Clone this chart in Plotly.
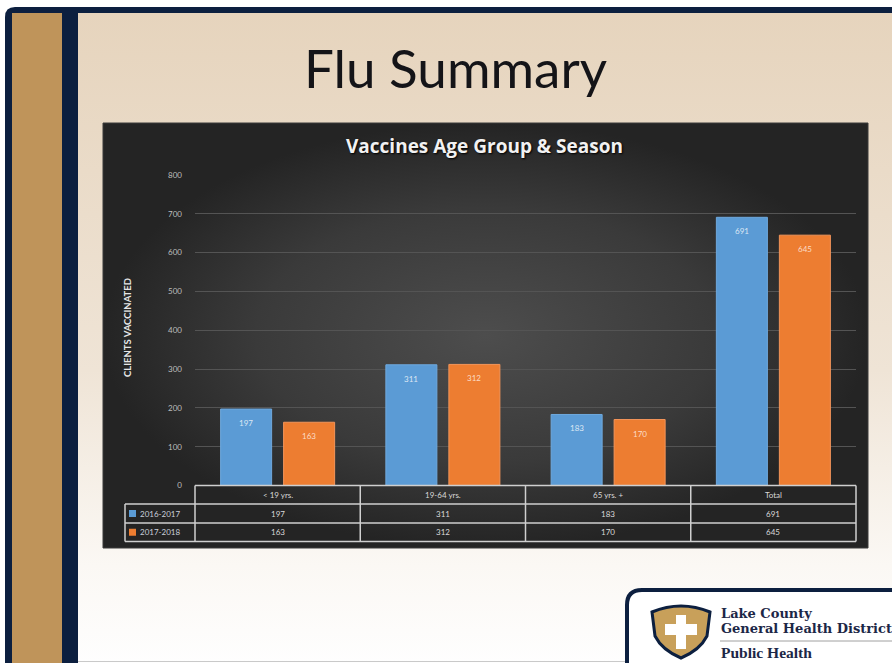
import plotly.graph_objects as go

# Canvas (the slide screenshot) size in pixels.
W, H = 892, 663

# ---- data -------------------------------------------------------------
categories = ["< 19 yrs.", "19-64 yrs.", "65 yrs. +", "Total"]
seasons = ["2016-2017", "2017-2018"]
vaccinated_2016_2017 = [197, 311, 183, 691]
vaccinated_2017_2018 = [163, 312, 170, 645]
y_ticks = [0, 100, 200, 300, 400, 500, 600, 700, 800]

# ---- styling ----------------------------------------------------------
COLOR_BLUE = "#5b9bd5"
COLOR_ORANGE = "#ed7d31"
NAVY = "#0c1f3f"
GOLD = "#bf945a"
TEXT_LIGHT = "#d9d9d9"
FONT_BODY = "Lato, Carlito, sans-serif"

# plot area of the chart, in screen pixels
PLOT_L, PLOT_R, PLOT_T, PLOT_B = 195, 856, 175, 485.5
ROW_Y = [485.5, 504, 523, 541.5]        # table row borders
LABEL_L = 125                            # left edge of the row-label column


def px(x):
    return x / W


def py(y):
    return 1 - y / H


def path(points):
    """SVG path in paper coords from (cmd, x, y, ...) pixel tuples."""
    out = []
    for p in points:
        cmd, coords = p[0], p[1:]
        pts = [f"{px(coords[i])},{py(coords[i + 1])}" for i in range(0, len(coords), 2)]
        out.append(cmd + " " + " ".join(pts))
    return " ".join(out) + " Z"


def rect_xy(x0, y0, x1, y1):
    return [x0, x1, x1, x0, x0], [y0, y0, y1, y1, y0]


def note(text, x, y, size, color, family=FONT_BODY, xref="paper", yref="paper", **kw):
    d = dict(x=x, y=y, xref=xref, yref=yref, text=text, showarrow=False,
             xanchor="center", yanchor="middle",
             font=dict(size=size, color=color, family=family))
    d.update(kw)
    return d


fig = go.Figure()

# Slide background (beige gradient) and the dark chart panel, drawn on a
# pixel-space helper axis pair underneath the chart.
bx, by = rect_xy(78, 13, 900, 670)
fig.add_trace(go.Scatter(
    x=bx, y=by, mode="lines", line=dict(width=0), fill="toself",
    fillgradient=dict(type="vertical", start=13, stop=663,
                      colorscale=[[0, "#e6d4bd"], [0.55, "#efe4d6"],
                                  [0.85, "#fbf8f4"], [1, "#fefefe"]]),
    hoverinfo="skip", showlegend=False, xaxis="x", yaxis="y"))
cx_, cy_ = rect_xy(103, 123, 868, 548)
fig.add_trace(go.Scatter(
    x=cx_, y=cy_, mode="lines", line=dict(width=1, color="#3a3a3a"), fill="toself",
    fillgradient=dict(type="radial",
                      colorscale=[[0, "#4d4d4d"], [0.6, "#3a3a3a"], [1, "#242424"]]),
    hoverinfo="skip", showlegend=False, xaxis="x", yaxis="y"))

# Bars.
for name, vals, color, line_c in [
    (seasons[0], vaccinated_2016_2017, COLOR_BLUE, "#6fa9de"),
    (seasons[1], vaccinated_2017_2018, COLOR_ORANGE, "#f3955a"),
]:
    fig.add_trace(go.Bar(
        x=categories, y=vals, name=name, marker=dict(color=color, line=dict(color=line_c, width=1)),
        hoverinfo="x+y+name", xaxis="x2", yaxis="y2", showlegend=False))

shapes = []
annotations = []

# Slide frame: navy rounded border, gold strip.
shapes.append(dict(type="path", xref="paper", yref="paper", layer="below",
                   path=path([("M", 5, 700), ("L", 5, 17), ("Q", 5, 7, 15, 7),
                              ("L", 900, 7), ("L", 900, 700)]),
                   fillcolor=NAVY, line=dict(width=0)))
shapes.append(dict(type="rect", xref="paper", yref="paper", layer="below",
                   x0=px(12), x1=px(62), y0=py(670), y1=py(13),
                   fillcolor=GOLD, line=dict(width=0)))
shapes.append(dict(type="line", xref="paper", yref="paper",
                   x0=px(78), x1=px(630), y0=py(661.5), y1=py(661.5),
                   line=dict(color="#c9c9c9", width=1)))

# Data table under the plot.
tbl_line = dict(color="#cfcfcf", width=1.5)
n = len(categories)
col_x = [PLOT_L + i * (PLOT_R - PLOT_L) / n for i in range(n + 1)]
shapes.append(dict(type="line", xref="paper", yref="paper", x0=px(PLOT_L), x1=px(PLOT_R),
                   y0=py(ROW_Y[0]), y1=py(ROW_Y[0]), line=tbl_line))
for yy in ROW_Y[1:]:
    shapes.append(dict(type="line", xref="paper", yref="paper", x0=px(LABEL_L), x1=px(PLOT_R),
                       y0=py(yy), y1=py(yy), line=tbl_line))
shapes.append(dict(type="line", xref="paper", yref="paper", x0=px(LABEL_L), x1=px(LABEL_L),
                   y0=py(ROW_Y[1]), y1=py(ROW_Y[-1]), line=tbl_line))
for xx in col_x:
    shapes.append(dict(type="line", xref="paper", yref="paper", x0=px(xx), x1=px(xx),
                       y0=py(ROW_Y[0]), y1=py(ROW_Y[-1]), line=tbl_line))

row_mid = [(ROW_Y[i] + ROW_Y[i + 1]) / 2 for i in range(3)]
for cat in categories:
    annotations.append(note(cat.replace("<", "&lt;"), cat, py(row_mid[0]), 8, TEXT_LIGHT,
                            xref="x2"))
for r, (vals, color, season) in enumerate([(vaccinated_2016_2017, COLOR_BLUE, seasons[0]),
                                           (vaccinated_2017_2018, COLOR_ORANGE, seasons[1])]):
    ym = row_mid[r + 1]
    for cat, v in zip(categories, vals):
        annotations.append(note(str(v), cat, py(ym), 8, TEXT_LIGHT, xref="x2"))
    shapes.append(dict(type="rect", xref="paper", yref="paper", x0=px(129), x1=px(136),
                       y0=py(ym + 3.5), y1=py(ym - 3.5), fillcolor=color, line=dict(width=0)))
    annotations.append(note(season, px(137.5), py(ym), 8, "#c9cfdb", xanchor="left"))

# Value labels inside the top of each bar.
for vals, shift, color in [(vaccinated_2016_2017, -31.5, "#dbe7f4"),
                           (vaccinated_2017_2018, 31.5, "#fcdcc6")]:
    for cat, v in zip(categories, vals):
        annotations.append(note(str(v), cat, v, 8, color, xref="x2", yref="y2",
                                xshift=shift, yshift=-14))

# Titles.
annotations.append(note("Flu Summary", px(455), py(68), 53, "#141418"))
title_font = dict(size=19, color="#f2f2f2", family="Open Sans, sans-serif",
                  shadow="1px 1px 2px #000000")
annotations.append(dict(note("<b>Vaccines Age Group &amp; Season</b>", px(484), py(146), 19,
                             "#f2f2f2"), font=title_font))
annotations.append(note("<b>CLIENTS VACCINATED</b>", px(127), py(328), 9.5, "#e6e6e6",
                        textangle=-90))

# Lake County logo box, bottom right.
shapes.append(dict(type="path", xref="paper", yref="paper",
                   path=path([("M", 627, 700), ("L", 627, 605), ("Q", 627, 590, 642, 590),
                              ("L", 900, 590), ("L", 900, 700)]),
                   fillcolor="#ffffff", line=dict(color=NAVY, width=4)))
shapes.append(dict(type="path", xref="paper", yref="paper",
                   path=path([("M", 652, 612), ("Q", 681, 600, 710, 612), ("L", 707, 636),
                              ("Q", 700, 650, 681, 658), ("Q", 662, 650, 655, 636)]),
                   fillcolor="#c8a05a", line=dict(color=NAVY, width=3)))
shapes.append(dict(type="rect", xref="paper", yref="paper", x0=px(676), x1=px(686),
                   y0=py(649), y1=py(615), fillcolor="#ffffff", line=dict(width=0)))
shapes.append(dict(type="rect", xref="paper", yref="paper", x0=px(665), x1=px(697),
                   y0=py(635), y1=py(624), fillcolor="#ffffff", line=dict(width=0)))
shapes.append(dict(type="line", xref="paper", yref="paper", x0=px(720), x1=px(892),
                   y0=py(641), y1=py(641), line=dict(color="#a0a0a0", width=1)))
for txt, yy, size, fam in [("Lake County", 613, 13, "DejaVu Serif"),
                           ("General Health District", 628, 13, "DejaVu Serif"),
                           ("Public Health", 652, 15.5, "Liberation Serif")]:
    annotations.append(note(f"<b>{txt}</b>", px(719), py(yy), size, "#1c2747", family=fam,
                            xanchor="left"))

fig.update_layout(
    width=W, height=H,
    margin=dict(l=0, r=0, t=0, b=0, autoexpand=False),
    paper_bgcolor="#ffffff", plot_bgcolor="rgba(0,0,0,0)",
    showlegend=False,
    barmode="group", bargap=0.2375, bargroupgap=0.19,
    xaxis=dict(domain=[0, 1], range=[0, W], visible=False, fixedrange=True),
    yaxis=dict(domain=[0, 1], range=[H, 0], visible=False, fixedrange=True),
    xaxis2=dict(domain=[px(PLOT_L), px(PLOT_R)], anchor="y2", type="category",
                categoryorder="array", categoryarray=categories, range=[-0.5, n - 0.5],
                showticklabels=False, showgrid=False, zeroline=False, showline=False,
                fixedrange=True),
    yaxis2=dict(domain=[py(PLOT_B), py(PLOT_T)], anchor="x2", range=[0, 800],
                tickvals=y_ticks, gridcolor="#545454", gridwidth=1, zeroline=False,
                showline=False, ticklabelstandoff=12, fixedrange=True,
                tickfont=dict(size=8, color="#bdbdbd", family=FONT_BODY)),
    shapes=shapes,
    annotations=annotations,
)

# drop the default page margin so the figure sits at the window's top-left
fig.write_html("out.html", config={"displayModeBar": False},
               post_script="document.body.style.margin='0';")
